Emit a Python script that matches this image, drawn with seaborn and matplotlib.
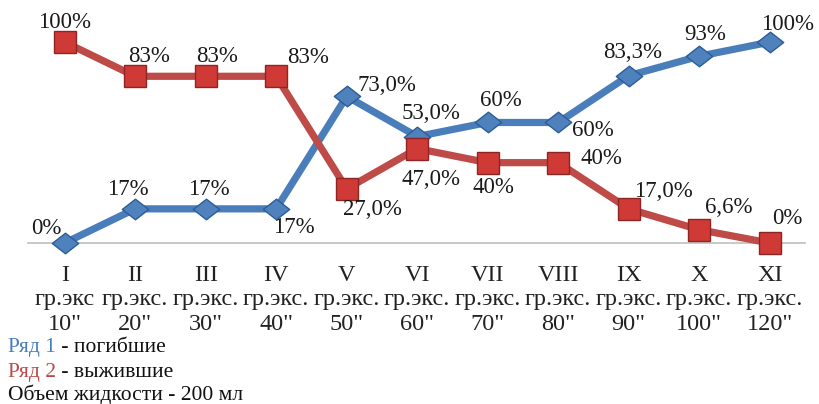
import pandas as pd
import matplotlib.pyplot as plt
from matplotlib.path import Path
import seaborn as sns

sns.set_theme(style='white')
plt.rcParams['font.family'] = ['Liberation Serif', 'DejaVu Serif']

# данные
groups = ['I', 'II', 'III', 'IV', 'V', 'VI', 'VII', 'VIII', 'IX', 'X', 'XI']
group_names = ['гр.экс', 'гр.экс.', 'гр.экс.', 'гр.экс.', 'гр.экс.', 'гр.экс.',
               'гр.экс.', 'гр.экс.', 'гр.экс.', 'гр.экс.', 'гр.экс.']
times = ['10"', '20"', '30"', '40"', '50"', '60"', '70"', '80"', '90"', '100"', '120"']
died = [0, 17, 17, 17, 73, 53, 60, 60, 83.3, 93, 100]
survived = [100, 83, 83, 83, 27, 47, 40, 40, 17, 6.6, 0]
died_labels = ['0%', '17%', '17%', '17%', '73,0%', '53,0%', '60%', '60%', '83,3%', '93%', '100%']
survived_labels = ['100%', '83%', '83%', '83%', '27,0%', '47,0%', '40%', '40%', '17,0%', '6,6%', '0%']

# смещения подписей (в пикселях: вправо, вниз)
died_off = [(-18, -15), (-7, -19), (3, -19), (18, 19), (40, -11), (14, -23),
            (13, -22), (35, 8), (4, -23), (6, -22), (18, -18)]
survived_off = [(0, -20), (14, -20), (11, -20), (32, -19), (26, 21), (14, 31),
                (6, 25), (43, -4), (35, -17), (30, -22), (18, -25)]

blue = '#4a7ebb'
red = '#be4b48'

df = pd.DataFrame({'x': range(len(groups)), 'died': died, 'survived': survived})

fig = plt.figure(figsize=(8.19, 4.04), dpi=100)
ax = fig.add_axes([28 / 819, 1 - 243 / 404, 777 / 819, 233 / 404])

diamond = Path([(-1, 0), (0, 0.78), (1, 0), (0, -0.78), (-1, 0)],
               [Path.MOVETO, Path.LINETO, Path.LINETO, Path.LINETO, Path.CLOSEPOLY])

sns.lineplot(data=df, x='x', y='died', ax=ax, color=blue, linewidth=5.2,
             marker=diamond, markersize=19, markerfacecolor='#4f81bd',
             markeredgecolor='#2c5d98', markeredgewidth=1, clip_on=False)
sns.lineplot(data=df, x='x', y='survived', ax=ax, color=red, linewidth=5.2,
             marker='s', markersize=16, markerfacecolor='#d03a36',
             markeredgecolor='#8c2523', markeredgewidth=1, clip_on=False)

for i in range(len(groups)):
    ax.annotate(died_labels[i], (i, died[i]), xytext=(died_off[i][0] * 0.72, -died_off[i][1] * 0.72),
                textcoords='offset points', ha='center', va='center', fontsize=16.5, color='#1a1a1a')
    ax.annotate(survived_labels[i], (i, survived[i]),
                xytext=(survived_off[i][0] * 0.72, -survived_off[i][1] * 0.72),
                textcoords='offset points', ha='center', va='center', fontsize=16.5, color='#1a1a1a')

ax.set_xlim(-0.52, 10.5)
ax.set_ylim(0, 116)
ax.set_xlabel('')
ax.set_ylabel('')
ax.set_yticks([])
ax.set_xticks(range(len(groups)))
ax.set_xticklabels([f'{g}\n{n}\n{t}' for g, n, t in zip(groups, group_names, times)],
                   fontsize=17.5, color='#222222', linespacing=1.2)
ax.tick_params(axis='x', length=0, pad=16)
for s in ['top', 'right', 'left']:
    ax.spines[s].set_visible(False)
ax.spines['bottom'].set_color('#bfbfbf')
ax.spines['bottom'].set_linewidth(1.2)
ax.spines['bottom'].set_zorder(0)
ax.set_facecolor('none')

# пояснения внизу
renderer = fig.canvas.get_renderer()
rows = [('Ряд 1', blue, ' - погибшие', 352), ('Ряд 2', red, ' - выжившие', 377)]
for head, col, rest, ypx in rows:
    t = fig.text(8 / 819, 1 - ypx / 404, head, color=col, fontsize=15.5, va='baseline', ha='left')
    bb = t.get_window_extent(renderer)
    fig.text(bb.x1 / 819, 1 - ypx / 404, rest, color='#111111', fontsize=15.5, va='baseline', ha='left')
fig.text(8 / 819, 1 - 400 / 404, 'Объем жидкости - 200 мл', color='#111111', fontsize=15.5,
         va='baseline', ha='left')

fig.savefig('out.png', dpi=100)
